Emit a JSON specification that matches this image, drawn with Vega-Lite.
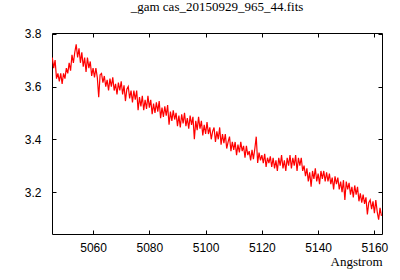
{
  "$schema": "https://vega.github.io/schema/vega-lite/v6.json",
  "autosize": {"type": "none"},
  "padding": {"left": 52, "top": 33, "right": 18, "bottom": 46},
  "width": 330,
  "height": 201,
  "title": {"text": "_gam cas_20150929_965_44.fits", "font": "Liberation Serif", "fontSize": 13, "fontWeight": "normal", "color": "#000000", "offset": 14, "anchor": "middle"},
  "config": {
    "view": {"stroke": "#000000", "strokeWidth": 1},
    "axis": {"grid": false, "domain": false, "tickColor": "#000000", "tickSize": -4, "labelFont": "Liberation Sans", "labelFontSize": 12, "labelColor": "#000000", "titleFont": "Liberation Serif", "titleFontSize": 13, "titleFontWeight": "normal", "titleColor": "#000000"}
  },
  "data": {"values": [
    {"wl":5045.5,"flux":3.71},{"wl":5046.0,"flux":3.67},{"wl":5046.5,"flux":3.70},{"wl":5047.0,"flux":3.63},{"wl":5047.5,"flux":3.65},{"wl":5048.0,"flux":3.62},{"wl":5048.5,"flux":3.65},{"wl":5049.0,"flux":3.61},{"wl":5049.5,"flux":3.65},{"wl":5050.0,"flux":3.63},
    {"wl":5050.5,"flux":3.67},{"wl":5051.0,"flux":3.65},{"wl":5051.5,"flux":3.69},{"wl":5052.0,"flux":3.66},{"wl":5052.5,"flux":3.72},{"wl":5053.0,"flux":3.69},{"wl":5053.5,"flux":3.73},{"wl":5054.0,"flux":3.76},{"wl":5054.5,"flux":3.71},{"wl":5055.0,"flux":3.745},
    {"wl":5055.5,"flux":3.69},{"wl":5056.0,"flux":3.73},{"wl":5056.5,"flux":3.675},{"wl":5057.0,"flux":3.71},{"wl":5057.5,"flux":3.655},{"wl":5058.0,"flux":3.71},{"wl":5058.5,"flux":3.67},{"wl":5059.0,"flux":3.695},{"wl":5059.5,"flux":3.64},{"wl":5060.0,"flux":3.67},
    {"wl":5060.5,"flux":3.635},{"wl":5061.0,"flux":3.67},{"wl":5061.5,"flux":3.635},{"wl":5062.0,"flux":3.56},{"wl":5062.5,"flux":3.645},{"wl":5063.0,"flux":3.65},{"wl":5063.5,"flux":3.615},{"wl":5064.0,"flux":3.64},{"wl":5064.5,"flux":3.60},{"wl":5065.0,"flux":3.625},
    {"wl":5065.5,"flux":3.585},{"wl":5066.0,"flux":3.63},{"wl":5066.5,"flux":3.60},{"wl":5067.0,"flux":3.635},{"wl":5067.5,"flux":3.585},{"wl":5068.0,"flux":3.61},{"wl":5068.5,"flux":3.57},{"wl":5069.0,"flux":3.615},{"wl":5069.5,"flux":3.585},{"wl":5070.0,"flux":3.62},
    {"wl":5070.5,"flux":3.57},{"wl":5071.0,"flux":3.605},{"wl":5071.5,"flux":3.545},{"wl":5072.0,"flux":3.59},{"wl":5072.5,"flux":3.60},{"wl":5073.0,"flux":3.555},{"wl":5073.5,"flux":3.585},{"wl":5074.0,"flux":3.54},{"wl":5074.5,"flux":3.585},{"wl":5075.0,"flux":3.55},
    {"wl":5075.5,"flux":3.585},{"wl":5076.0,"flux":3.51},{"wl":5076.5,"flux":3.56},{"wl":5077.0,"flux":3.525},{"wl":5077.5,"flux":3.565},{"wl":5078.0,"flux":3.51},{"wl":5078.5,"flux":3.55},{"wl":5079.0,"flux":3.515},{"wl":5079.5,"flux":3.565},{"wl":5080.0,"flux":3.52},
    {"wl":5080.5,"flux":3.55},{"wl":5081.0,"flux":3.495},{"wl":5081.5,"flux":3.535},{"wl":5082.0,"flux":3.50},{"wl":5082.5,"flux":3.54},{"wl":5083.0,"flux":3.505},{"wl":5083.5,"flux":3.545},{"wl":5084.0,"flux":3.48},{"wl":5084.5,"flux":3.52},{"wl":5085.0,"flux":3.485},
    {"wl":5085.5,"flux":3.525},{"wl":5086.0,"flux":3.49},{"wl":5086.5,"flux":3.53},{"wl":5087.0,"flux":3.455},{"wl":5087.5,"flux":3.505},{"wl":5088.0,"flux":3.47},{"wl":5088.5,"flux":3.51},{"wl":5089.0,"flux":3.475},{"wl":5089.5,"flux":3.50},{"wl":5090.0,"flux":3.45},
    {"wl":5090.5,"flux":3.49},{"wl":5091.0,"flux":3.445},{"wl":5091.5,"flux":3.495},{"wl":5092.0,"flux":3.46},{"wl":5092.5,"flux":3.50},{"wl":5093.0,"flux":3.45},{"wl":5093.5,"flux":3.48},{"wl":5094.0,"flux":3.44},{"wl":5094.5,"flux":3.49},{"wl":5095.0,"flux":3.455},
    {"wl":5095.5,"flux":3.485},{"wl":5096.0,"flux":3.40},{"wl":5096.5,"flux":3.47},{"wl":5097.0,"flux":3.435},{"wl":5097.5,"flux":3.485},{"wl":5098.0,"flux":3.44},{"wl":5098.5,"flux":3.47},{"wl":5099.0,"flux":3.415},{"wl":5099.5,"flux":3.455},{"wl":5100.0,"flux":3.42},
    {"wl":5100.5,"flux":3.465},{"wl":5101.0,"flux":3.42},{"wl":5101.5,"flux":3.445},{"wl":5102.0,"flux":3.40},{"wl":5102.5,"flux":3.43},{"wl":5103.0,"flux":3.445},{"wl":5103.5,"flux":3.39},{"wl":5104.0,"flux":3.43},{"wl":5104.5,"flux":3.40},{"wl":5105.0,"flux":3.445},
    {"wl":5105.5,"flux":3.38},{"wl":5106.0,"flux":3.42},{"wl":5106.5,"flux":3.385},{"wl":5107.0,"flux":3.42},{"wl":5107.5,"flux":3.365},{"wl":5108.0,"flux":3.39},{"wl":5108.5,"flux":3.41},{"wl":5109.0,"flux":3.355},{"wl":5109.5,"flux":3.39},{"wl":5110.0,"flux":3.36},
    {"wl":5110.5,"flux":3.39},{"wl":5111.0,"flux":3.34},{"wl":5111.5,"flux":3.38},{"wl":5112.0,"flux":3.35},{"wl":5112.5,"flux":3.39},{"wl":5113.0,"flux":3.355},{"wl":5113.5,"flux":3.375},{"wl":5114.0,"flux":3.33},{"wl":5114.5,"flux":3.375},{"wl":5115.0,"flux":3.34},
    {"wl":5115.5,"flux":3.355},{"wl":5116.0,"flux":3.32},{"wl":5116.5,"flux":3.36},{"wl":5117.0,"flux":3.325},{"wl":5117.5,"flux":3.365},{"wl":5118.0,"flux":3.41},{"wl":5118.5,"flux":3.31},{"wl":5119.0,"flux":3.35},{"wl":5119.5,"flux":3.32},{"wl":5120.0,"flux":3.34},
    {"wl":5120.5,"flux":3.31},{"wl":5121.0,"flux":3.345},{"wl":5121.5,"flux":3.295},{"wl":5122.0,"flux":3.33},{"wl":5122.5,"flux":3.31},{"wl":5123.0,"flux":3.335},{"wl":5123.5,"flux":3.295},{"wl":5124.0,"flux":3.33},{"wl":5124.5,"flux":3.29},{"wl":5125.0,"flux":3.32},
    {"wl":5125.5,"flux":3.28},{"wl":5126.0,"flux":3.33},{"wl":5126.5,"flux":3.30},{"wl":5127.0,"flux":3.34},{"wl":5127.5,"flux":3.29},{"wl":5128.0,"flux":3.32},{"wl":5128.5,"flux":3.28},{"wl":5129.0,"flux":3.33},{"wl":5129.5,"flux":3.30},{"wl":5130.0,"flux":3.34},
    {"wl":5130.5,"flux":3.29},{"wl":5131.0,"flux":3.33},{"wl":5131.5,"flux":3.30},{"wl":5132.0,"flux":3.34},{"wl":5132.5,"flux":3.28},{"wl":5133.0,"flux":3.33},{"wl":5133.5,"flux":3.30},{"wl":5134.0,"flux":3.33},{"wl":5134.5,"flux":3.28},{"wl":5135.0,"flux":3.30},
    {"wl":5135.5,"flux":3.26},{"wl":5136.0,"flux":3.29},{"wl":5136.5,"flux":3.24},{"wl":5137.0,"flux":3.275},{"wl":5137.5,"flux":3.22},{"wl":5138.0,"flux":3.28},{"wl":5138.5,"flux":3.25},{"wl":5139.0,"flux":3.29},{"wl":5139.5,"flux":3.24},{"wl":5140.0,"flux":3.27},
    {"wl":5140.5,"flux":3.23},{"wl":5141.0,"flux":3.28},{"wl":5141.5,"flux":3.25},{"wl":5142.0,"flux":3.28},{"wl":5142.5,"flux":3.24},{"wl":5143.0,"flux":3.275},{"wl":5143.5,"flux":3.24},{"wl":5144.0,"flux":3.27},{"wl":5144.5,"flux":3.23},{"wl":5145.0,"flux":3.255},
    {"wl":5145.5,"flux":3.21},{"wl":5146.0,"flux":3.26},{"wl":5146.5,"flux":3.23},{"wl":5147.0,"flux":3.255},{"wl":5147.5,"flux":3.21},{"wl":5148.0,"flux":3.24},{"wl":5148.5,"flux":3.20},{"wl":5149.0,"flux":3.245},{"wl":5149.5,"flux":3.17},{"wl":5150.0,"flux":3.24},
    {"wl":5150.5,"flux":3.21},{"wl":5151.0,"flux":3.235},{"wl":5151.5,"flux":3.19},{"wl":5152.0,"flux":3.22},{"wl":5152.5,"flux":3.18},{"wl":5153.0,"flux":3.225},{"wl":5153.5,"flux":3.19},{"wl":5154.0,"flux":3.22},{"wl":5154.5,"flux":3.165},{"wl":5155.0,"flux":3.195},
    {"wl":5155.5,"flux":3.16},{"wl":5156.0,"flux":3.19},{"wl":5156.5,"flux":3.155},{"wl":5157.0,"flux":3.18},{"wl":5157.5,"flux":3.115},{"wl":5158.0,"flux":3.16},{"wl":5158.5,"flux":3.17},{"wl":5159.0,"flux":3.135},{"wl":5159.5,"flux":3.165},{"wl":5160.0,"flux":3.12},
    {"wl":5160.5,"flux":3.17},{"wl":5161.0,"flux":3.125},{"wl":5161.5,"flux":3.095},{"wl":5162.0,"flux":3.14},{"wl":5162.5,"flux":3.11}
  ]},
  "layer": [
    {
      "mark": {"type": "line", "color": "#ff0000", "strokeWidth": 1.2, "clip": true},
      "encoding": {
        "x": {"field": "wl", "type": "quantitative", "scale": {"domain": [5045.4, 5162.7], "nice": false, "zero": false},
              "axis": {"orient": "bottom", "values": [5060, 5080, 5100, 5120, 5140, 5160], "format": "d", "title": "Angstrom", "titleAnchor": "end", "titleAlign": "right", "titlePadding": 2, "labelPadding": 12}},
        "y": {"field": "flux", "type": "quantitative", "scale": {"domain": [3.041, 3.803], "nice": false, "zero": false},
              "axis": {"orient": "left", "values": [3.2, 3.4, 3.6, 3.8], "format": ".1f", "title": null, "labelPadding": 15}}
      }
    },
    {
      "mark": {"type": "line", "opacity": 0, "clip": true},
      "encoding": {
        "x": {"field": "wl", "type": "quantitative", "scale": {"domain": [5045.4, 5162.7], "nice": false, "zero": false},
              "axis": {"orient": "top", "values": [5060, 5080, 5100, 5120, 5140, 5160], "labels": false, "title": null}},
        "y": {"field": "flux", "type": "quantitative", "scale": {"domain": [3.041, 3.803], "nice": false, "zero": false},
              "axis": {"orient": "right", "values": [3.2, 3.4, 3.6, 3.8], "labels": false, "title": null}}
      }
    }
  ],
  "resolve": {"axis": {"x": "independent", "y": "independent"}}
}
